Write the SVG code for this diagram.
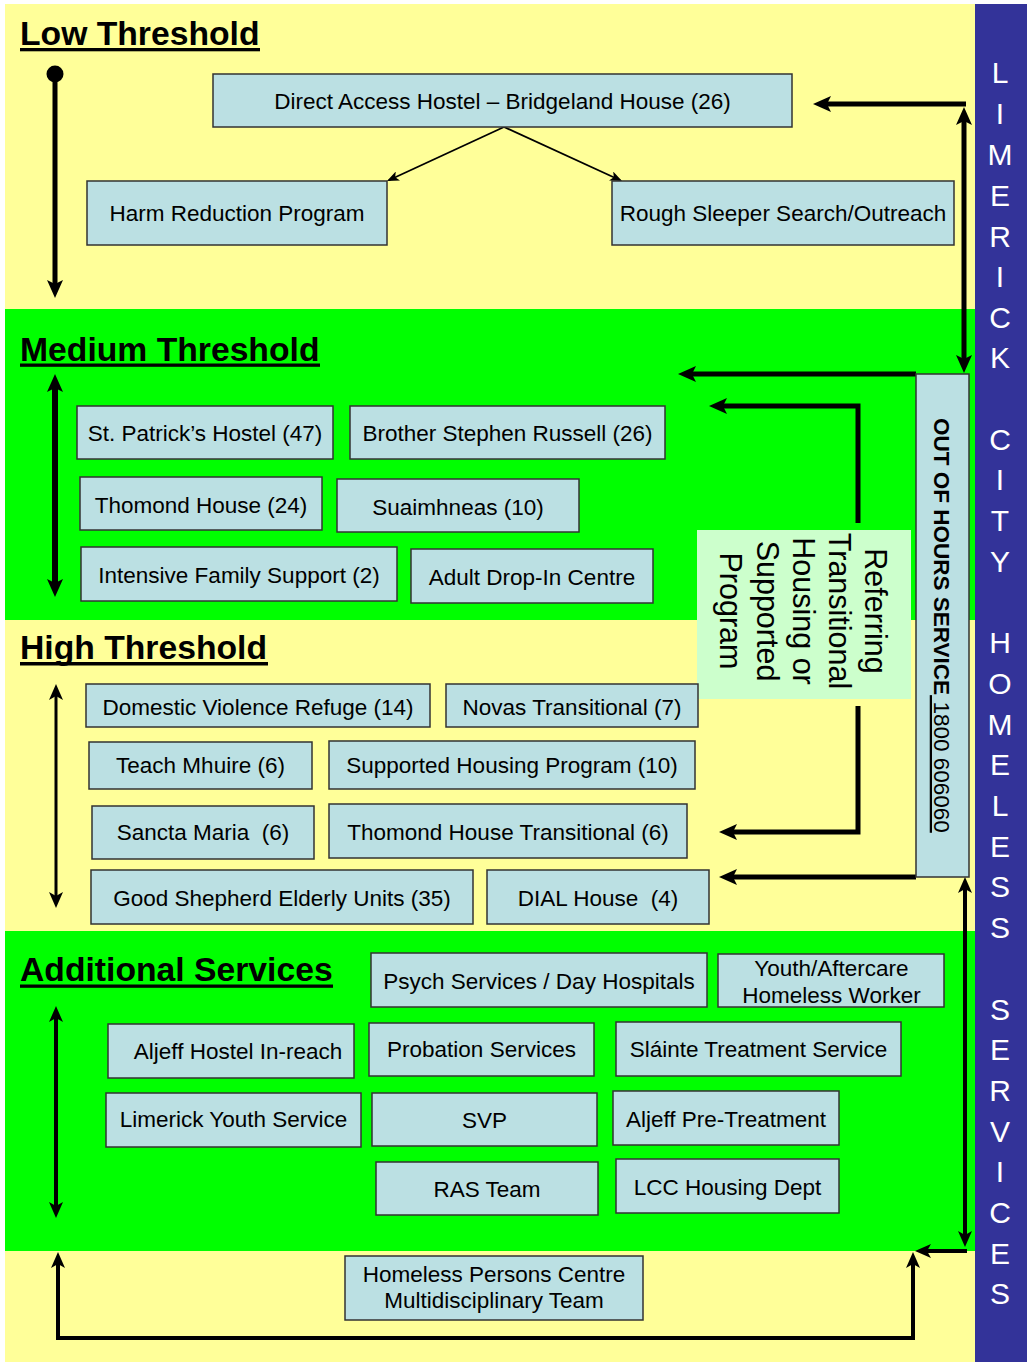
<svg xmlns="http://www.w3.org/2000/svg" width="1027" height="1362" viewBox="0 0 1027 1362">
<style>
text{font-family:"Liberation Sans",Arial,sans-serif;fill:#000}
.box{fill:#BBE0E3;stroke:#333;stroke-width:1.5}
.lbl{font-size:22.5px;text-anchor:middle;white-space:pre}
.head{font-size:33.7px;font-weight:bold}
.ul{fill:#000}
.blue{font-size:30px;fill:#fff;text-anchor:middle}
.c5{fill:none;stroke:#000;stroke-width:5}
.c4{fill:none;stroke:#000;stroke-width:4}
.c3{fill:none;stroke:#000;stroke-width:3}
.thin{fill:none;stroke:#000;stroke-width:1.8}
</style>
<defs>
<marker id="a1" markerUnits="userSpaceOnUse" viewBox="0 0 18 16" refX="10" refY="8" markerWidth="18" markerHeight="16" orient="auto-start-reverse"><path d="M0,0 L18,8 L0,16 L4,8 Z" fill="#000"/></marker>
<marker id="a2" markerUnits="userSpaceOnUse" viewBox="0 0 16 14" refX="9" refY="7" markerWidth="16" markerHeight="14" orient="auto-start-reverse"><path d="M0,0 L16,7 L0,14 L4,7 Z" fill="#000"/></marker>
<marker id="a3" markerUnits="userSpaceOnUse" viewBox="0 0 12 10" refX="10" refY="5" markerWidth="12" markerHeight="10" orient="auto"><path d="M0,0 L12,5 L0,10 L3,5 Z" fill="#000"/></marker>
</defs>
<rect x="0" y="0" width="1027" height="1362" fill="#fff"/>
<g id="bands">
<rect x="5" y="4" width="970" height="1358" fill="#FFFF99"/>
<rect x="5" y="309" width="970" height="311" fill="#00FF00"/>
<rect x="5" y="931" width="970" height="320" fill="#00FF00"/>
<rect x="975" y="4" width="52" height="1358" fill="#333399"/>
</g>
<g id="sidebar">
<text class="blue"><tspan x="1000" y="83">L</tspan><tspan x="1000" y="124">I</tspan><tspan x="1000" y="165">M</tspan><tspan x="1000" y="206">E</tspan><tspan x="1000" y="247">R</tspan><tspan x="1000" y="287">I</tspan><tspan x="1000" y="328">C</tspan><tspan x="1000" y="368">K</tspan><tspan x="1000" y="450">C</tspan><tspan x="1000" y="490">I</tspan><tspan x="1000" y="531">T</tspan><tspan x="1000" y="572">Y</tspan><tspan x="1000" y="653">H</tspan><tspan x="1000" y="694">O</tspan><tspan x="1000" y="735">M</tspan><tspan x="1000" y="775">E</tspan><tspan x="1000" y="816">L</tspan><tspan x="1000" y="857">E</tspan><tspan x="1000" y="897">S</tspan><tspan x="1000" y="938">S</tspan><tspan x="1000" y="1020">S</tspan><tspan x="1000" y="1060">E</tspan><tspan x="1000" y="1101">R</tspan><tspan x="1000" y="1142">V</tspan><tspan x="1000" y="1182">I</tspan><tspan x="1000" y="1223">C</tspan><tspan x="1000" y="1264">E</tspan><tspan x="1000" y="1304">S</tspan></text>
</g>
<g id="headings">
<text class="head" x="20" y="45">Low Threshold</text><rect class="ul" x="20" y="48" width="240" height="3.3"/>
<text class="head" x="20" y="361">Medium Threshold</text><rect class="ul" x="20" y="363.5" width="300" height="3.3"/>
<text class="head" x="20" y="659">High Threshold</text><rect class="ul" x="20" y="662" width="248" height="3.5"/>
<text class="head" x="20" y="981">Additional Services</text><rect class="ul" x="20" y="984.5" width="313" height="3.3"/>
</g>
<g id="connectors">
<circle cx="55" cy="74" r="8.5" fill="#000"/>
<path class="c5" d="M55,74 V290" marker-end="url(#a1)"/>
<path class="c5" d="M55,382 V589" marker-start="url(#a1)" marker-end="url(#a1)" style="stroke-width:6"/>
<path class="c3" d="M56,691 V901" marker-start="url(#a2)" marker-end="url(#a2)"/>
<path class="c4" d="M56,1013 V1211" marker-start="url(#a2)" marker-end="url(#a2)"/>
<path class="thin" d="M504,127 L388.8,180.2" marker-end="url(#a3)"/>
<path class="thin" d="M504,127 L620.2,180.2" marker-end="url(#a3)"/>
<path class="c5" d="M966,104 H821" marker-end="url(#a1)"/>
<path class="c5" d="M964,115 V365" marker-start="url(#a1)" marker-end="url(#a1)"/>
<path class="c5" d="M916,374 H686" marker-end="url(#a1)"/>
<path class="c5" d="M858,523 V406 H717" marker-end="url(#a1)"/>
<path class="c5" d="M858,706 V832 H727" marker-end="url(#a1)"/>
<path class="c5" d="M916,877 H727" marker-end="url(#a1)"/>
<path class="c4" d="M965,884 V1240" marker-start="url(#a2)" marker-end="url(#a2)"/>
<path class="c4" d="M967,1251 H922" marker-end="url(#a2)"/>
<path class="c4" d="M58,1259 V1338 H913 V1259" marker-start="url(#a2)" marker-end="url(#a2)"/>
</g>
<g id="n-direct"><rect class="box" x="213" y="74" width="579" height="53"/><text class="lbl" x="502.5" y="109">Direct Access Hostel – Bridgeland House (26)</text></g>
<g id="n-harm"><rect class="box" x="87" y="181" width="300" height="64"/><text class="lbl" x="237" y="221">Harm Reduction Program</text></g>
<g id="n-rough"><rect class="box" x="612" y="181" width="342" height="64"/><text class="lbl" x="783" y="221">Rough Sleeper Search/Outreach</text></g>
<g id="n-stpatrick"><rect class="box" x="77" y="406" width="256" height="53"/><text class="lbl" x="205" y="441">St. Patrick’s Hostel (47)</text></g>
<g id="n-brother"><rect class="box" x="350" y="406" width="315" height="53"/><text class="lbl" x="507.5" y="441">Brother Stephen Russell (26)</text></g>
<g id="n-thomond"><rect class="box" x="80" y="477" width="242" height="53"/><text class="lbl" x="201" y="513">Thomond House (24)</text></g>
<g id="n-suaimhneas"><rect class="box" x="337" y="479" width="242" height="53"/><text class="lbl" x="458" y="515">Suaimhneas (10)</text></g>
<g id="n-intensive"><rect class="box" x="81" y="547" width="316" height="54"/><text class="lbl" x="239" y="583">Intensive Family Support (2)</text></g>
<g id="n-adult"><rect class="box" x="411" y="549" width="242" height="54"/><text class="lbl" x="532" y="585">Adult Drop-In Centre</text></g>
<g id="n-referring"><rect x="697" y="530" width="214" height="169" fill="#CCFFCC"/><text transform="translate(865,611) rotate(90)" style="font-size:30.5px;text-anchor:middle"><tspan x="0" y="0">Referring</tspan><tspan x="0" y="36">Transitional</tspan><tspan x="0" y="72">Housing or</tspan><tspan x="0" y="108">Supported</tspan><tspan x="0" y="145">Program</tspan></text></g>
<g id="n-outofhours"><rect class="box" x="916" y="374" width="53" height="503"/><text transform="translate(934,418) rotate(90)" style="font-size:22.5px;white-space:pre"><tspan font-weight="bold">OUT OF HOURS SERVICE</tspan><tspan text-decoration="underline"> 1800 606060</tspan></text></g>
<g id="n-domestic"><rect class="box" x="86" y="684" width="344" height="43"/><text class="lbl" x="258" y="715">Domestic Violence Refuge (14)</text></g>
<g id="n-novas"><rect class="box" x="446" y="684" width="252" height="43"/><text class="lbl" x="572" y="715">Novas Transitional (7)</text></g>
<g id="n-teach"><rect class="box" x="89" y="742" width="223" height="47"/><text class="lbl" x="200.5" y="773">Teach Mhuire (6)</text></g>
<g id="n-supported"><rect class="box" x="329" y="741" width="366" height="48"/><text class="lbl" x="512" y="773">Supported Housing Program (10)</text></g>
<g id="n-sancta"><rect class="box" x="92" y="806" width="222" height="53"/><text class="lbl" x="203" y="840">Sancta Maria  (6)</text></g>
<g id="n-thomondtrans"><rect class="box" x="329" y="804" width="358" height="54"/><text class="lbl" x="508" y="840">Thomond House Transitional (6)</text></g>
<g id="n-goodshepherd"><rect class="box" x="91" y="870" width="382" height="54"/><text class="lbl" x="282" y="906">Good Shepherd Elderly Units (35)</text></g>
<g id="n-dial"><rect class="box" x="487" y="870" width="222" height="54"/><text class="lbl" x="598" y="906">DIAL House  (4)</text></g>
<g id="n-psych"><rect class="box" x="371" y="953" width="336" height="54"/><text class="lbl" x="539" y="989">Psych Services / Day Hospitals</text></g>
<g id="n-youth"><rect class="box" x="718" y="954" width="226" height="53"/><text class="lbl"><tspan x="831.5" y="976">Youth/Aftercare</tspan><tspan x="831.5" y="1003">Homeless Worker</tspan></text></g>
<g id="n-aljeffhostel"><rect class="box" x="108" y="1024" width="246" height="54"/><text class="lbl" x="238" y="1059">Aljeff Hostel In-reach</text></g>
<g id="n-probation"><rect class="box" x="369" y="1023" width="225" height="53"/><text class="lbl" x="481.5" y="1057">Probation Services</text></g>
<g id="n-slainte"><rect class="box" x="616" y="1022" width="285" height="54"/><text class="lbl" x="758.5" y="1057">Sláinte Treatment Service</text></g>
<g id="n-limerickyouth"><rect class="box" x="106" y="1093" width="255" height="54"/><text class="lbl" x="233.5" y="1127">Limerick Youth Service</text></g>
<g id="n-svp"><rect class="box" x="372" y="1093" width="225" height="53"/><text class="lbl" x="484.5" y="1128">SVP</text></g>
<g id="n-aljeffpre"><rect class="box" x="613" y="1091" width="226" height="54"/><text class="lbl" x="726" y="1127">Aljeff Pre-Treatment</text></g>
<g id="n-ras"><rect class="box" x="376" y="1162" width="222" height="53"/><text class="lbl" x="487" y="1197">RAS Team</text></g>
<g id="n-lcc"><rect class="box" x="616" y="1159" width="223" height="54"/><text class="lbl" x="727.5" y="1195">LCC Housing Dept</text></g>
<g id="n-hpc"><rect class="box" x="345" y="1256" width="298" height="64"/><text class="lbl"><tspan x="494" y="1282">Homeless Persons Centre</tspan><tspan x="494" y="1308">Multidisciplinary Team</tspan></text></g>
</svg>
